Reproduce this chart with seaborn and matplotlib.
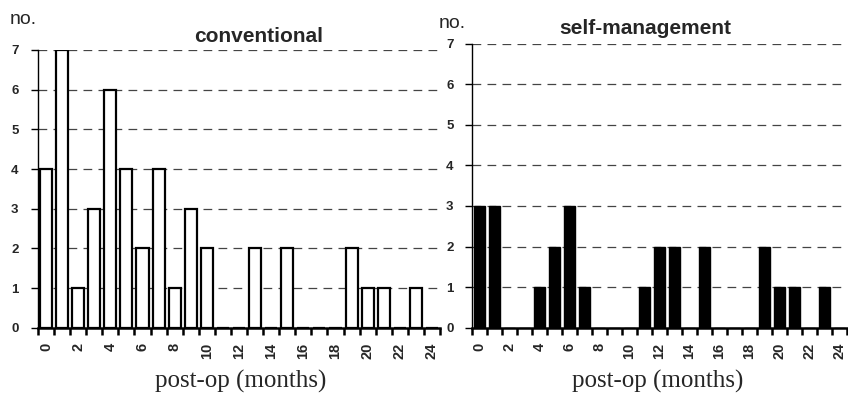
import matplotlib
matplotlib.use("Agg")
import matplotlib.pyplot as plt
import seaborn as sns
import pandas as pd

months = list(range(25))
conventional = [4, 7, 1, 3, 6, 4, 2, 4, 1, 3, 2, 0, 0, 2, 0, 2, 0, 0, 0, 2, 1, 1, 0, 1, 0]
self_management = [3, 3, 0, 0, 1, 2, 3, 1, 0, 0, 0, 1, 2, 2, 0, 2, 0, 0, 0, 2, 1, 1, 0, 1, 0]
y_ticks = [0, 1, 2, 3, 4, 5, 6, 7]
x_labels = [str(m) if m % 2 == 0 else "" for m in months]
titles = ["conventional", "self-management"]
xlabel = "post-op (months)"
ylabel = "no."

sns.set_style("white")
plt.rcParams["font.family"] = ["Liberation Sans", "DejaVu Sans"]

fig = plt.figure(figsize=(8.48, 3.93), dpi=100)
ax1 = fig.add_axes([38 / 848, 1 - 327.7 / 393, 402 / 848, (327.7 - 50) / 393])
ax2 = fig.add_axes([471.7 / 848, 1 - 327.7 / 393, 375.5 / 848, (327.7 - 43.7) / 393])

df = pd.DataFrame({"month": [str(m) for m in months],
                   "conventional": conventional,
                   "self": self_management})
order = [str(m) for m in months]

sns.barplot(data=df, x="month", y="conventional", order=order, color="white",
            edgecolor="black", linewidth=1.6, width=0.75, saturation=1, ax=ax1)
sns.barplot(data=df, x="month", y="self", order=order, color="black",
            edgecolor="black", linewidth=1.0, width=0.75, saturation=1, ax=ax2)

for ax, ypad in ((ax1, 9), (ax2, 8)):
    ax.set_xlim(-0.5, 24.5)
    ax.set_ylim(0, 7)
    ax.set_yticks(y_ticks)
    ax.set_yticklabels([str(v) for v in y_ticks], fontweight="bold", fontsize=9.5)
    ax.set_xticks(months)
    ax.set_xticklabels(x_labels, rotation=90, fontweight="bold", fontsize=10.5)
    ax.set_xticks([m - 0.5 for m in months] + [24.5], minor=True)
    ax.tick_params(axis="x", which="major", bottom=True, length=0, pad=11)
    ax.tick_params(axis="x", which="minor", bottom=True, length=5, width=1.8, color="black")
    ax.tick_params(axis="y", which="major", left=True, length=5, width=1, color="black", pad=ypad)
    for v in y_ticks[1:]:
        ax.axhline(v, color="#444444", linewidth=0.9, linestyle=(0, (7, 5)), zorder=0)
    for s in ("top", "right"):
        ax.spines[s].set_visible(False)
    ax.spines["left"].set_color("black")
    ax.spines["left"].set_linewidth(1.0)
    ax.spines["bottom"].set_color("black")
    ax.spines["bottom"].set_linewidth(1.8)
    ax.set_ylabel("")
    ax.set_xlabel("")
    ax.set_facecolor("white")
    ax.set_axisbelow(True)

fig.text(259 / 848, 1 - 36 / 393, titles[0], ha="center", va="center",
         fontsize=15, fontweight="bold")
fig.text(645 / 848, 1 - 28 / 393, titles[1], ha="center", va="center",
         fontsize=15, fontweight="bold")
fig.text(10 / 848, 1 - 20 / 393, ylabel, ha="left", va="center", fontsize=14)
fig.text(439 / 848, 1 - 23 / 393, ylabel, ha="left", va="center", fontsize=14)
fig.text(241 / 848, 1 - 381 / 393, xlabel, ha="center", va="center",
         fontsize=18, family=["Liberation Serif", "DejaVu Serif"])
fig.text(658 / 848, 1 - 381 / 393, xlabel, ha="center", va="center",
         fontsize=18, family=["Liberation Serif", "DejaVu Serif"])

fig.savefig("out.png", dpi=100, facecolor="white")
